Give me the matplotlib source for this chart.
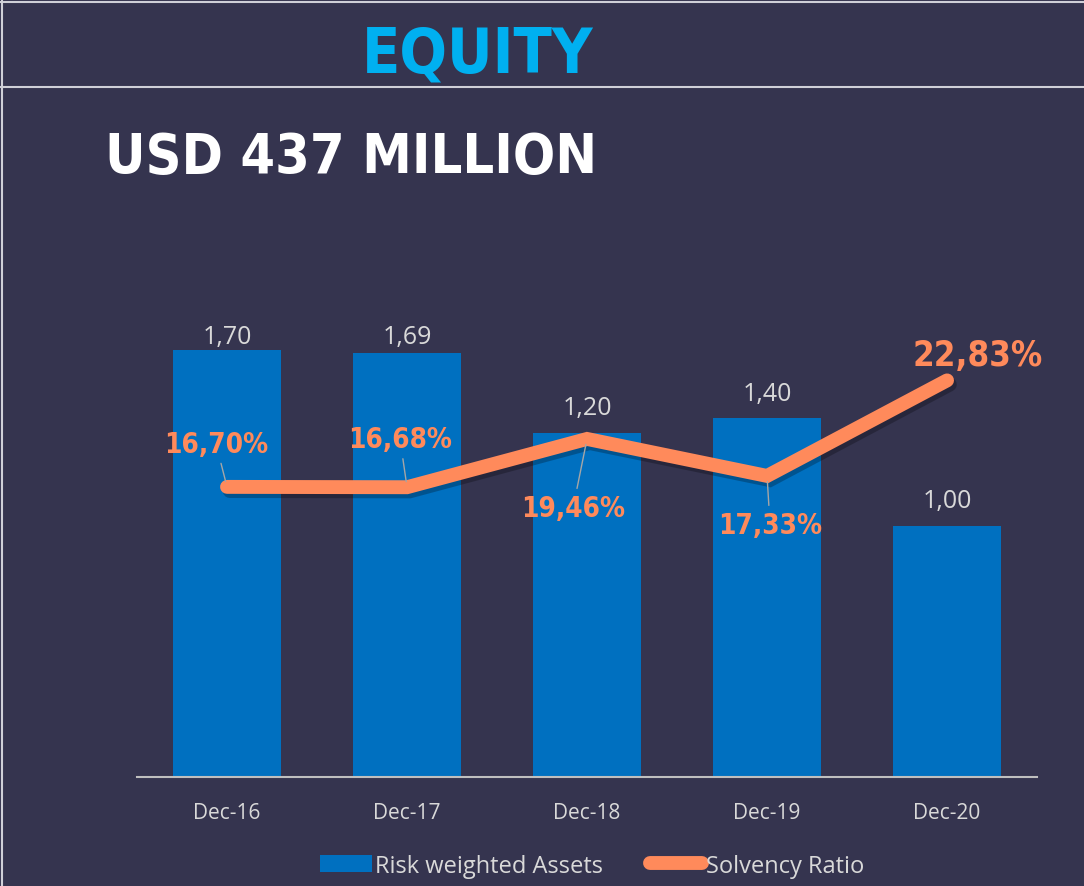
import matplotlib
matplotlib.use('Agg')
import matplotlib.pyplot as plt
import matplotlib.patheffects as pe
from matplotlib.lines import Line2D
from matplotlib.patches import Patch

# данные
periods = ['Dec-16', 'Dec-17', 'Dec-18', 'Dec-19', 'Dec-20']
risk_weighted_assets = [1.70, 1.69, 1.37, 1.43, 1.00]
asset_labels = ['1,70', '1,69', '1,20', '1,40', '1,00']
solvency_ratio = [16.70, 16.68, 19.46, 17.33, 22.83]

bg = '#35344F'
bar_color = '#0070C0'
line_color = '#FF8A5B'
text_gray = '#D9D9D9'

plt.rcParams['font.family'] = ['Open Sans', 'DejaVu Sans']

fig = plt.figure(figsize=(10.84, 8.87), dpi=100, facecolor=bg)

# рамка и заголовки
fig.add_artist(Line2D([0, 1], [0.9966, 0.9966], color='#D0D0D8', lw=1.5))
fig.add_artist(Line2D([0.002, 0.002], [0, 1], color='#D0D0D8', lw=1.5))
fig.add_artist(Line2D([0, 1], [0.9008, 0.9008], color='#D0D0D8', lw=1.5))
fig.text(0.441, 0.9188, 'EQUITY', color='#00B0F0', fontsize=45, fontweight='bold',
         family='DejaVu Sans', fontstretch='condensed', ha='center', va='baseline')
fig.text(0.0969, 0.805, 'USD 437 MILLION', color='white', fontsize=40, fontweight='bold',
         family='DejaVu Sans', fontstretch='condensed', ha='left', va='baseline')

# основная ось - столбцы
ax = fig.add_axes([0.1264, 0.1229, 0.8303, 0.566])
ax.set_facecolor(bg)
x = range(len(periods))
ax.bar(x, risk_weighted_assets, width=0.6, color=bar_color, zorder=2)

# подписи над столбцами (отступ в пикселях)
label_gaps = [7, 10, 19, 18, 19]
for i, (h, lab, gap) in enumerate(zip(risk_weighted_assets, asset_labels, label_gaps)):
    ax.annotate(lab, xy=(i, h), xytext=(0, gap), textcoords='offset pixels',
                ha='center', va='baseline', color=text_gray, fontsize=18)

ax.set_xlim(-0.5, 4.5)
ax.set_ylim(0, 2.0)
ax.set_xticks(list(x), periods)
ax.tick_params(axis='x', length=0, pad=18, colors=text_gray, labelsize=15)
ax.set_yticks([])
for side in ['top', 'right', 'left']:
    ax.spines[side].set_visible(False)
ax.spines['bottom'].set_color('#BFBFBF')
ax.spines['bottom'].set_linewidth(1.5)

# вторичная ось - линия
ax2 = ax.twinx()
ax2.plot(list(x), solvency_ratio, color=line_color, lw=10, solid_capstyle='round',
         solid_joinstyle='miter', zorder=3,
         path_effects=[pe.SimpleLineShadow(offset=(2, -3), shadow_color='black', alpha=0.25),
                       pe.Normal()])
ax2.set_ylim(0, 28.9)
ax2.set_yticks([])
for side in ['top', 'right', 'left', 'bottom']:
    ax2.spines[side].set_visible(False)

offsets = [(-11, 43), (-7, 48), (-14, -69), (3, -49), (31, 25)]
for i, (v, off) in enumerate(zip(solvency_ratio, offsets)):
    label = f'{v:.2f}%'.replace('.', ',')
    last = i == len(solvency_ratio) - 1
    ax2.annotate(label, xy=(i, v), xytext=off, textcoords='offset pixels',
                 ha='center', va='center', color=line_color,
                 fontsize=25 if last else 20, fontweight='bold',
                 family='DejaVu Sans', fontstretch='condensed',
                 arrowprops=None if last else dict(arrowstyle='-', color='#A6A6A6', lw=1,
                                                   shrinkA=2, shrinkB=4))

# легенда
handles = [Patch(facecolor=bar_color, edgecolor='none'),
           Line2D([0], [0], color=line_color, lw=10, solid_capstyle='round')]
fig.legend(handles, ['Risk weighted Assets', 'Solvency Ratio'], loc='center',
           bbox_to_anchor=(0.546, 0.023), ncol=2, frameon=False, fontsize=17,
           labelcolor=text_gray, handlelength=2.2, handletextpad=0.15, columnspacing=2.0)

plt.savefig('out.png', dpi=100, facecolor=bg)
